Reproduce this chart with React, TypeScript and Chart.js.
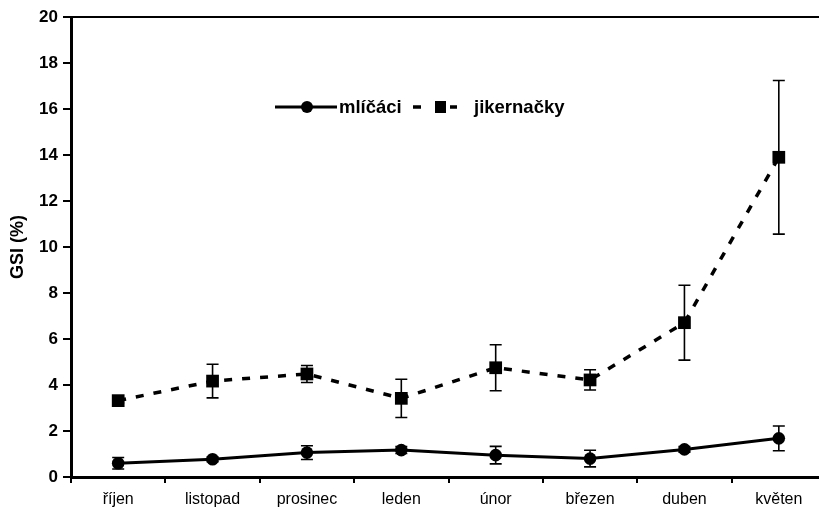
import React, { useEffect, useRef } from "react";
import { Chart, registerables } from "chart.js";
Chart.register(...registerables);

const months = ["říjen", "listopad", "prosinec", "leden", "únor", "březen", "duben", "květen"];
const mlicaciMean = [0.6, 0.77, 1.06, 1.17, 0.95, 0.8, 1.2, 1.68];
const mlicaciErr = [0.25, 0.1, 0.3, 0.15, 0.38, 0.36, 0.12, 0.54];
const jikernackyMean = [3.32, 4.17, 4.48, 3.42, 4.75, 4.22, 6.71, 13.9];
const jikernackyErr = [0.1, 0.73, 0.37, 0.83, 1.0, 0.44, 1.63, 3.34];
const seriesNames = ["mlíčáci", "jikernačky"];
const yTitle = "GSI (%)";

const FONT = "'Liberation Sans', Arial, sans-serif";

const errorBarPlugin = {
  id: "errorBars",
  afterDatasetsDraw(chart: any) {
    const ctx = chart.ctx;
    const y = chart.scales.y;
    const errs = [mlicaciErr, jikernackyErr];
    chart.data.datasets.forEach((ds: any, di: number) => {
      const meta = chart.getDatasetMeta(di);
      meta.data.forEach((pt: any, i: number) => {
        const v = ds.data[i];
        const e = errs[di][i];
        const yt = y.getPixelForValue(v + e);
        const yb = y.getPixelForValue(v - e);
        ctx.save();
        ctx.strokeStyle = "#000";
        ctx.lineWidth = 1.6;
        ctx.beginPath();
        ctx.moveTo(pt.x, yt);
        ctx.lineTo(pt.x, yb);
        ctx.moveTo(pt.x - 6, yt);
        ctx.lineTo(pt.x + 6, yt);
        ctx.moveTo(pt.x - 6, yb);
        ctx.lineTo(pt.x + 6, yb);
        ctx.stroke();
        ctx.restore();
      });
    });
  },
};

const framePlugin = {
  id: "frame",
  afterDraw(chart: any) {
    const ctx = chart.ctx;
    const a = chart.chartArea;
    ctx.save();
    ctx.strokeStyle = "#000";
    ctx.lineWidth = 2;
    ctx.beginPath();
    ctx.moveTo(a.left, a.top);
    ctx.lineTo(a.right, a.top);
    ctx.stroke();

    // legend
    const ly = 107;
    ctx.lineWidth = 3;
    ctx.beginPath();
    ctx.moveTo(275, ly);
    ctx.lineTo(337, ly);
    ctx.stroke();
    ctx.fillStyle = "#000";
    ctx.beginPath();
    ctx.arc(307, ly, 6, 0, Math.PI * 2);
    ctx.fill();
    ctx.font = `bold 18.5px ${FONT}`;
    ctx.textBaseline = "middle";
    ctx.textAlign = "left";
    ctx.fillText(seriesNames[0], 339, ly + 1);
    ctx.lineWidth = 3.5;
    ctx.beginPath();
    ctx.moveTo(413, ly);
    ctx.lineTo(421, ly);
    ctx.moveTo(450, ly);
    ctx.lineTo(457, ly);
    ctx.stroke();
    ctx.fillRect(435, ly - 6, 11, 12);
    ctx.fillText(seriesNames[1], 474, ly + 1);
    ctx.restore();
  },
};

export default function App() {
  const ref = useRef<HTMLCanvasElement>(null);
  useEffect(() => {
    if (!ref.current) return;
    const chart = new Chart(ref.current, {
      type: "line",
      data: {
        labels: months,
        datasets: [
          {
            label: seriesNames[0],
            data: mlicaciMean,
            borderColor: "#000",
            backgroundColor: "#000",
            borderWidth: 3,
            pointStyle: "circle",
            pointRadius: 6.3,
            pointBorderWidth: 0,
            tension: 0,
          },
          {
            label: seriesNames[1],
            data: jikernackyMean,
            borderColor: "#000",
            backgroundColor: "#000",
            borderWidth: 3.5,
            borderDash: [8, 10],
            pointStyle: "rect",
            pointRadius: 9,
            pointBorderWidth: 0,
            tension: 0,
          },
        ],
      },
      options: {
        responsive: false,
        animation: false,
        devicePixelRatio: 1,
        layout: { padding: { top: 17, right: 8, left: 0, bottom: 0 } },
        plugins: { legend: { display: false }, tooltip: { enabled: false } },
        scales: {
          x: {
            type: "category",
            offset: true,
            afterFit: (s: any) => {
              s.height = 31;
            },
            grid: {
              display: true,
              offset: true,
              drawOnChartArea: false,
              drawTicks: true,
              tickLength: 6,
              color: "#000",
              lineWidth: 2,
            },
            border: { display: true, color: "#000", width: 3 },
            ticks: {
              color: "#000",
              padding: 7,
              font: { family: FONT, size: 16 },
              maxRotation: 0,
            },
          },
          y: {
            min: 0,
            max: 20,
            afterFit: (s: any) => {
              s.width = 71;
            },
            ticks: {
              stepSize: 2,
              color: "#000",
              padding: 5,
              font: { family: FONT, size: 17, weight: "bold" },
            },
            grid: {
              display: true,
              drawOnChartArea: false,
              drawTicks: true,
              tickLength: 8,
              color: "#000",
              lineWidth: 2,
            },
            border: { display: true, color: "#000", width: 3 },
            title: {
              display: true,
              text: yTitle,
              color: "#000",
              font: { family: FONT, size: 18, weight: "bold" },
              padding: { top: 7, bottom: 0 },
            },
          },
        },
      },
      plugins: [errorBarPlugin, framePlugin],
    });
    return () => chart.destroy();
  }, []);
  return (
    <div style={{ position: "fixed", left: 0, top: 0, width: 819, height: 508, overflow: "hidden", background: "#fff" }}>
      <canvas ref={ref} width={835} height={508} style={{ display: "block" }} />
    </div>
  );
}
